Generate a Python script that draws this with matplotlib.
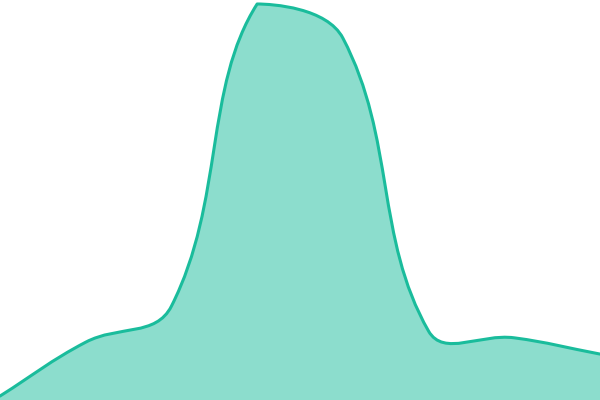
import numpy as np
import matplotlib
matplotlib.use("Agg")
import matplotlib.pyplot as plt
from matplotlib.path import Path
from matplotlib.patches import PathPatch

categories = list(range(8))
values = [1, 14.6, 23.7, 100, 91.4, 17.4, 15.7, 11.6]

LINE = "#1abc9c"
TENSION = 0.4

fig = plt.figure(figsize=(6, 4), dpi=100)
ax = fig.add_axes([0, 0, 1, 0.99])
ax.set_xlim(0, 7)
ax.set_ylim(0, 100)
ax.axis("off")


def spline_path(xs, ys, t=TENSION):
    # Chart.js style spline (tension-based bezier, control points capped to area)
    pts = ax.transData.transform(np.column_stack([xs, ys]))
    bb = ax.bbox
    n = len(pts)
    cps = []
    for i in range(n):
        cur = pts[i]
        prev = pts[i - 1] if i > 0 else cur
        nxt = pts[i + 1] if i < n - 1 else cur
        d01 = np.hypot(*(cur - prev))
        d12 = np.hypot(*(nxt - cur))
        tot = d01 + d12
        s01 = d01 / tot if tot > 0 else 0
        s12 = d12 / tot if tot > 0 else 0
        cp1 = cur - t * s01 * (nxt - prev)
        cp2 = cur + t * s12 * (nxt - prev)
        for cp in (cp1, cp2):
            cp[0] = min(max(cp[0], bb.x0), bb.x1)
            cp[1] = min(max(cp[1], bb.y0), bb.y1)
        cps.append((cp1, cp2))
    verts = [pts[0]]
    codes = [Path.MOVETO]
    for i in range(1, n):
        verts += [cps[i - 1][1], cps[i][0], pts[i]]
        codes += [Path.CURVE4] * 3
    inv = ax.transData.inverted()
    return inv.transform(np.array(verts)), codes


xs = np.array(categories, dtype=float)
ys = np.array(values, dtype=float)
verts, codes = spline_path(xs, ys)

fill_verts = list(verts) + [(xs[-1], 0), (xs[0], 0), verts[0]]
fill_codes = list(codes) + [Path.LINETO, Path.LINETO, Path.CLOSEPOLY]
ax.add_patch(PathPatch(Path(fill_verts, fill_codes), facecolor=LINE, alpha=0.5,
                       edgecolor="none", clip_on=False))
ax.add_patch(PathPatch(Path(verts, codes), facecolor="none", edgecolor=LINE,
                       linewidth=2.2, capstyle="round", joinstyle="round",
                       clip_on=False))

fig.savefig("out.png", dpi=100)
